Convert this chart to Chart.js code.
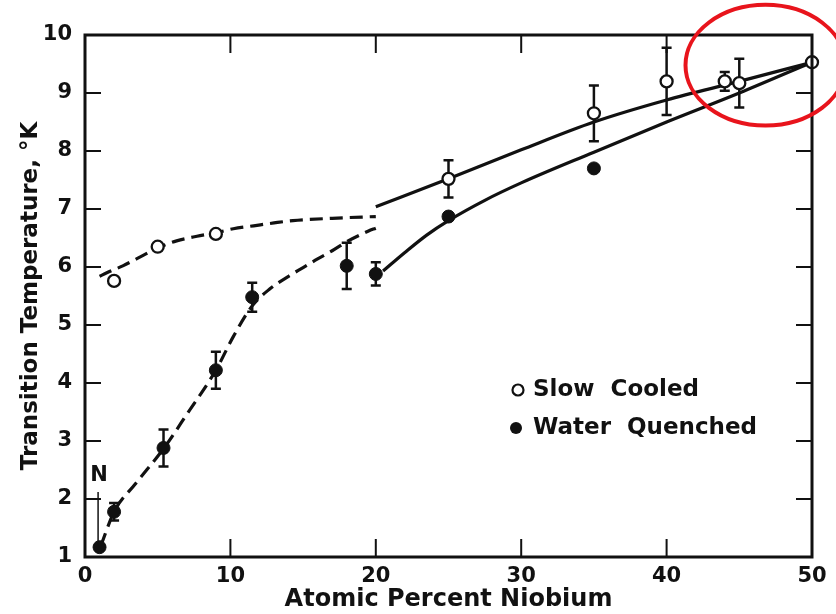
<!DOCTYPE html>
<html>
<head>
<meta charset="utf-8">
<script src="https://cdn.jsdelivr.net/npm/chart.js@4.4.1/dist/chart.umd.min.js"></script>
<style>
  html, body { margin: 0; padding: 0; background: #fff; }
</style>
</head>
<body>
<canvas id="chart" width="836" height="614"></canvas>
<script>
// Measured transition temperatures (atomic % Nb -> K)
const slowX = [2, 5, 9, 25, 35, 40, 44, 45, 50];
const slowY = [5.76, 6.35, 6.57, 7.52, 8.65, 9.2, 9.2, 9.17, 9.53];
const slowErr = [0, 0, 0, 0.32, 0.48, 0.58, 0.16, 0.42, 0];

const quenchX = [1, 2, 5.4, 9, 11.5, 18, 20, 25, 35];
const quenchY = [1.17, 1.78, 2.88, 4.22, 5.48, 6.02, 5.88, 6.87, 7.7];
const quenchErr = [0, 0.15, 0.32, 0.32, 0.25, 0.4, 0.2, 0, 0];

// Hand-drawn trend curves
const slowDashX = [1, 1.5, 2.6, 4, 5, 6.3, 7.7, 9, 10.2, 11.6, 13, 14.3, 17, 20];
const slowDashY = [5.84, 5.9, 6.02, 6.2, 6.33, 6.45, 6.53, 6.59, 6.66, 6.71, 6.76, 6.8, 6.84, 6.87];
const slowLineX = [20, 25, 30, 35, 40, 45, 50];
const slowLineY = [7.04, 7.52, 8.02, 8.5, 8.88, 9.2, 9.53];

const quenchDashX = [1.1, 2, 3.5, 5.5, 7, 9, 10.2, 11.5, 12.7, 14, 15, 16, 17, 18.1, 19.5, 20];
const quenchDashY = [1.2, 1.78, 2.27, 2.9, 3.46, 4.22, 4.8, 5.33, 5.62, 5.84, 5.99, 6.14, 6.28, 6.45, 6.62, 6.67];
const quenchLineX = [20.5, 22, 23.5, 25, 27.5, 30, 35, 40, 45, 50];
const quenchLineY = [5.93, 6.25, 6.55, 6.8, 7.15, 7.45, 7.98, 8.5, 9.0, 9.53];

const xTicks = [0, 10, 20, 30, 40, 50];
const yTicks = [1, 2, 3, 4, 5, 6, 7, 8, 9, 10];

const ink = '#111';
const font = 'DejaVu Sans';

const pts = (xs, ys) => xs.map((x, i) => ({ x, y: ys[i] }));

function curve(xs, ys, dashed) {
  return {
    data: pts(xs, ys),
    showLine: true,
    borderColor: ink,
    borderWidth: 3.2,
    borderDash: dashed ? [13, 7] : [],
    pointRadius: 0,
    cubicInterpolationMode: 'monotone',
    order: 2
  };
}

// error bars under the markers
const errorBars = {
  id: 'errorBars',
  beforeDatasetsDraw(chart) {
    const { ctx, scales: { x, y } } = chart;
    ctx.save();
    ctx.strokeStyle = ink;
    ctx.lineWidth = 2.5;
    const sets = [[slowX, slowY, slowErr], [quenchX, quenchY, quenchErr]];
    sets.forEach(([xs, ys, es]) => {
      xs.forEach((v, i) => {
        if (!es[i]) return;
        const px = x.getPixelForValue(v);
        const top = y.getPixelForValue(ys[i] + es[i]);
        const bot = y.getPixelForValue(ys[i] - es[i]);
        ctx.beginPath();
        ctx.moveTo(px, top); ctx.lineTo(px, bot);
        ctx.moveTo(px - 5, top); ctx.lineTo(px + 5, top);
        ctx.moveTo(px - 5, bot); ctx.lineTo(px + 5, bot);
        ctx.stroke();
      });
    });
    ctx.restore();
  }
};

// box frame with inward ticks on all four sides
const frame = {
  id: 'frame',
  afterDatasetsDraw(chart) {
    const { ctx, chartArea: a, scales: { x, y } } = chart;
    ctx.save();
    ctx.strokeStyle = ink;
    ctx.lineWidth = 3;
    ctx.strokeRect(a.left, a.top, a.right - a.left, a.bottom - a.top);
    ctx.lineWidth = 2;
    ctx.beginPath();
    xTicks.slice(1, -1).forEach(v => {
      const px = x.getPixelForValue(v);
      ctx.moveTo(px, a.bottom); ctx.lineTo(px, a.bottom - 18);
      ctx.moveTo(px, a.top); ctx.lineTo(px, a.top + 18);
    });
    yTicks.slice(1, -1).forEach(v => {
      const py = y.getPixelForValue(v);
      ctx.moveTo(a.left, py); ctx.lineTo(a.left + 16, py);
      ctx.moveTo(a.right, py); ctx.lineTo(a.right - 16, py);
    });
    ctx.stroke();
    ctx.restore();
  }
};

// legend, "N" marker and the red ring near 50 % Nb
const notes = {
  id: 'notes',
  afterDraw(chart) {
    const { ctx, chartArea: a, scales: { x, y } } = chart;
    ctx.save();
    ctx.fillStyle = ink;
    ctx.strokeStyle = ink;
    ctx.font = `bold 23px "${font}"`;
    ctx.textBaseline = 'middle';
    ctx.textAlign = 'left';
    const lx = a.left + 433, ly = a.top + 355;
    ctx.lineWidth = 2.2;
    ctx.beginPath(); ctx.arc(lx, ly, 5.5, 0, Math.PI * 2); ctx.stroke();
    ctx.fillText('Slow  Cooled', lx + 15, ly);
    ctx.beginPath(); ctx.arc(lx - 2, ly + 38, 6, 0, Math.PI * 2); ctx.fill();
    ctx.fillText('Water  Quenched', lx + 15, ly + 38);

    const nx = x.getPixelForValue(0.9);
    ctx.lineWidth = 1.5;
    ctx.beginPath();
    ctx.moveTo(nx, y.getPixelForValue(2.12));
    ctx.lineTo(nx, y.getPixelForValue(1.2));
    ctx.stroke();
    ctx.textAlign = 'center';
    ctx.font = `bold 21px "${font}"`;
    ctx.fillText('N', nx + 1, y.getPixelForValue(2.4));

    const cx = x.getPixelForValue(46.8), cy = y.getPixelForValue(9.48);
    const rx = x.getPixelForValue(46.8 + 5.5) - cx;
    const ry = cy - y.getPixelForValue(9.48 + 1.04);
    ctx.strokeStyle = '#e8141c';
    ctx.lineWidth = 4;
    ctx.beginPath();
    ctx.ellipse(cx, cy, rx, ry, 0, 0, Math.PI * 2);
    ctx.stroke();
    ctx.restore();
  }
};

new Chart(document.getElementById('chart'), {
  type: 'scatter',
  data: {
    datasets: [
      {
        label: 'Slow Cooled',
        data: pts(slowX, slowY),
        pointRadius: 6,
        pointBorderWidth: 2.3,
        pointBackgroundColor: '#fff',
        pointBorderColor: ink,
        clip: false,
        order: 0
      },
      {
        label: 'Water Quenched',
        data: pts(quenchX, quenchY),
        pointRadius: 6.5,
        pointBorderWidth: 1,
        pointBackgroundColor: ink,
        pointBorderColor: ink,
        clip: false,
        order: 0
      },
      curve(slowDashX, slowDashY, true),
      curve(slowLineX, slowLineY, false),
      curve(quenchDashX, quenchDashY, true),
      curve(quenchLineX, quenchLineY, false)
    ]
  },
  options: {
    responsive: false,
    animation: false,
    devicePixelRatio: 1,
    layout: { padding: { top: 35, right: 24, left: 0, bottom: 0 } },
    plugins: { legend: { display: false }, tooltip: { enabled: false } },
    scales: {
      x: {
        type: 'linear', min: 0, max: 50,
        afterBuildTicks: s => { s.ticks = xTicks.map(v => ({ value: v })); },
        afterFit: s => { s.height = 57; },
        grid: { display: false, drawTicks: false },
        border: { display: false },
        ticks: { color: ink, font: { family: font, size: 21, weight: 'bold' }, padding: 7, maxRotation: 0 },
        title: {
          display: true, text: 'Atomic Percent Niobium', color: ink,
          font: { family: font, size: 24, weight: 'bold' }, padding: { top: 0, bottom: 0 }
        }
      },
      y: {
        type: 'linear', min: 1, max: 10,
        afterBuildTicks: s => { s.ticks = yTicks.map(v => ({ value: v })); },
        afterFit: s => { s.width = 85; },
        grid: { display: false, drawTicks: false },
        border: { display: false },
        ticks: { color: ink, font: { family: font, size: 21, weight: 'bold' }, padding: 13 },
        title: {
          display: true, text: 'Transition Temperature, °K', color: ink,
          font: { family: font, size: 23, weight: 'bold' }, padding: { top: 17, bottom: 0 }
        }
      }
    }
  },
  plugins: [errorBars, frame, notes]
});
</script>
</body>
</html>
